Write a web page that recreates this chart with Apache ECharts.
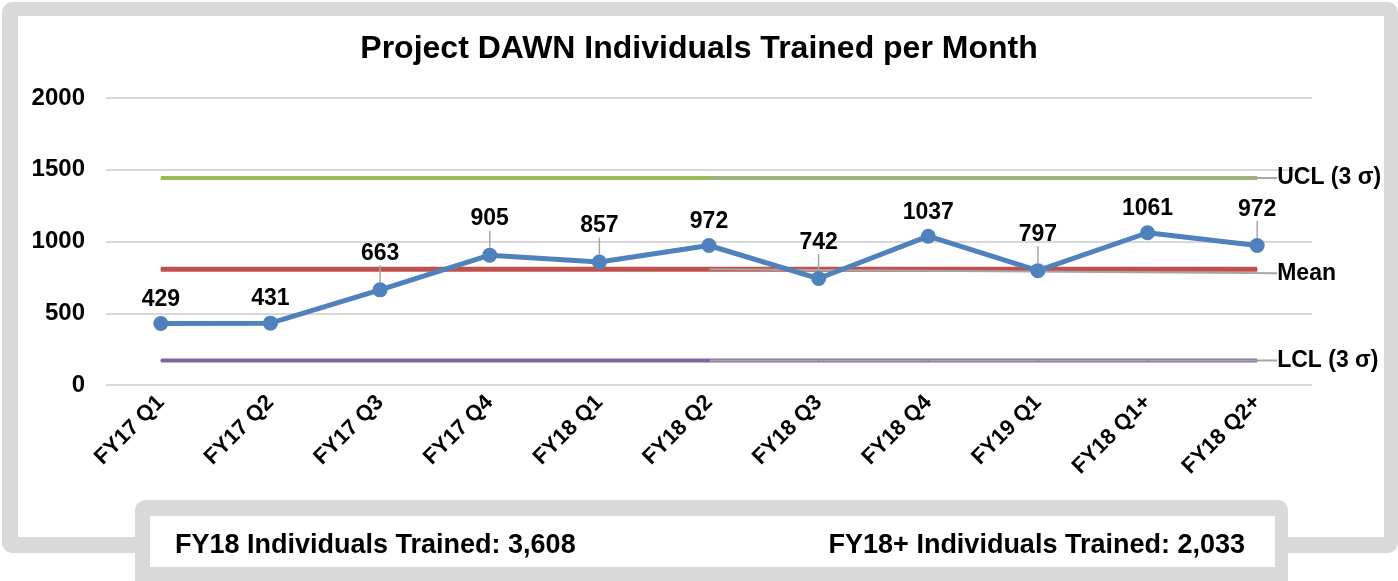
<!DOCTYPE html>
<html>
<head>
<meta charset="utf-8">
<script src="https://cdn.jsdelivr.net/npm/echarts@6/dist/echarts.min.js"></script>
<style>
  html, body { margin: 0; padding: 0; width: 1398px; height: 581px; overflow: hidden; background: #ffffff; font-family: "Liberation Sans", Arial, sans-serif; }
  .frame { position: absolute; background: #d9d9d9; border-radius: 10px; }
  .inner { position: absolute; background: #ffffff; }
  #chart { position: absolute; left: 0; top: 0; width: 1398px; height: 581px; }
  .note { position: absolute; top: 527px; font-weight: bold; font-size: 27px; color: #000; white-space: nowrap; line-height: 34px; }
</style>
</head>
<body>
<div class="frame" style="left:2px;top:2px;width:1396px;height:551px;"></div>
<div class="inner" style="left:18px;top:16px;width:1366px;height:521px;"></div>
<div class="frame" style="left:135px;top:500px;width:1153px;height:110px;"></div>
<div class="inner" style="left:150px;top:516px;width:1125px;height:51px;"></div>
<div id="chart"></div>
<div class="note" id="noteLeft" style="left:175px;"></div>
<div class="note" id="noteRight" style="right:153px;"></div>
<script>
const titleText = 'Project DAWN Individuals Trained per Month';
const categories = ['FY17 Q1', 'FY17 Q2', 'FY17 Q3', 'FY17 Q4', 'FY18 Q1', 'FY18 Q2', 'FY18 Q3', 'FY18 Q4', 'FY19 Q1', 'FY18 Q1+', 'FY18 Q2+'];
const trained = [429, 431, 663, 905, 857, 972, 742, 1037, 797, 1061, 972];
const uclValues = [1442, 1442, 1442, 1442, 1442, 1442, 1442, 1442, 1442, 1442, 1442];
const meanValues = [806, 806, 806, 806, 806, 806, 806, 806, 806, 806, 806];
const lclValues = [170, 170, 170, 170, 170, 170, 170, 170, 170, 170, 170];
const yTicks = [0, 500, 1000, 1500, 2000];
const leaderPoints = [2, 3, 4, 6, 8, 10];
const notes = ['FY18 Individuals Trained: 3,608', 'FY18+ Individuals Trained: 2,033'];

document.getElementById('noteLeft').textContent = notes[0];
document.getElementById('noteRight').textContent = notes[1];

const FONT = '"Liberation Sans", Arial, sans-serif';
const chart = echarts.init(document.getElementById('chart'), null, { renderer: 'canvas' });

function controlLine(name, values, color, width, labelText, yShift) {
  return {
    name: name,
    type: 'line',
    data: values.map((v, i) => i === 5 ? {
      value: v,
      label: { show: true, formatter: labelText },
      labelLine: { show: true }
    } : v),
    symbol: 'circle',
    symbolSize: 1,
    itemStyle: { color: color },
    lineStyle: { color: color, width: width },
    label: { show: false, fontFamily: FONT, fontWeight: 'bold', fontSize: 23, color: '#000' },
    labelLine: { show: false, lineStyle: { color: '#a6a6a6', width: 2 } },
    labelLayout: function (params) {
      if (params.dataIndex !== 5) return {};
      const xEnd = chart.convertToPixel({ xAxisIndex: 0 }, categories.length - 1);
      return {
        x: xEnd + 20,
        y: params.rect.y + params.rect.height / 2 + yShift,
        align: 'left',
        verticalAlign: 'middle'
      };
    },
    z: 2,
    silent: true,
    animation: false
  };
}

const option = {
  animation: false,
  title: {
    text: titleText,
    left: 'center',
    top: 28,
    textStyle: { fontFamily: FONT, fontWeight: 'bold', fontSize: 32, color: '#000' }
  },
  grid: { left: 106, right: 86, top: 98, bottom: 196, containLabel: false },
  xAxis: {
    type: 'category',
    data: categories,
    boundaryGap: true,
    axisLine: { show: false },
    axisTick: { show: false },
    axisLabel: {
      rotate: 45,
      margin: 14,
      fontFamily: FONT,
      fontWeight: 'bold',
      fontSize: 22,
      color: '#000'
    }
  },
  yAxis: {
    type: 'value',
    min: yTicks[0],
    max: yTicks[yTicks.length - 1],
    interval: 500,
    axisLine: { show: false },
    axisTick: { show: false },
    splitLine: { lineStyle: { color: '#d9d9d9', width: 2 } },
    axisLabel: {
      margin: 21,
      formatter: function (v) { return String(v); },
      fontFamily: FONT,
      fontWeight: 'bold',
      fontSize: 24,
      color: '#000'
    }
  },
  series: [
    controlLine('UCL (3 σ)', uclValues, '#9bbb59', 4, 'UCL (3 σ)', 0),
    controlLine('Mean', meanValues, '#c0504d', 5, 'Mean', 4),
    controlLine('LCL (3 σ)', lclValues, '#8064a2', 4, 'LCL (3 σ)', 0),
    {
      name: 'Individuals Trained',
      type: 'line',
      data: trained.map((v, i) => leaderPoints.includes(i) ? { value: v, labelLine: { show: true } } : v),
      symbol: 'circle',
      symbolSize: 15,
      itemStyle: { color: '#4f81bd' },
      lineStyle: { color: '#4f81bd', width: 5 },
      label: {
        show: true,
        position: 'top',
        distance: 5,
        fontFamily: FONT,
        fontWeight: 'bold',
        fontSize: 23,
        color: '#000'
      },
      labelLine: { show: false, lineStyle: { color: '#a6a6a6', width: 1.5 } },
      labelLayout: function (params) {
        if (leaderPoints.includes(params.dataIndex)) return { dy: -12 };
        return {};
      },
      z: 5,
      animation: false
    }
  ]
};
chart.setOption(option);
</script>
</body>
</html>
